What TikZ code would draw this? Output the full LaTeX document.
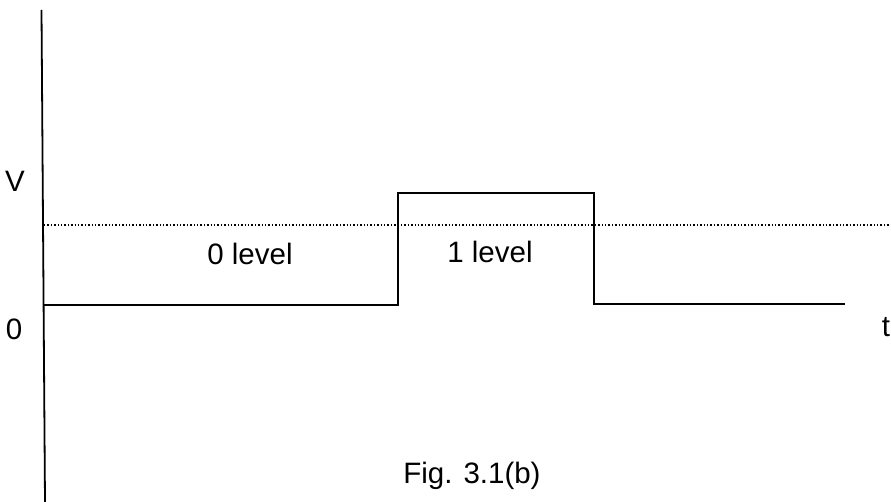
\documentclass[tikz,border=0pt]{standalone}
\usepackage{fontspec}
\setmainfont{Liberation Sans}
\begin{document}
\begin{tikzpicture}[x=1pt,y=-1pt,
  lbl/.style={inner sep=0pt,anchor=base,font=\fontsize{29.5}{32}\selectfont},
  sig/.style={line width=1.8pt,line join=miter},
  axisline/.style={line width=1.8pt},
  thr/.style={line width=1.4pt,dotted}]
\useasboundingbox (0,0) rectangle (891,502);
% axis
\coordinate (atop) at (41.5,10);
\coordinate (abot) at (45,502);
\draw[axisline] (atop) -- (abot);
% threshold dotted line
\coordinate (d1) at (44,225);
\coordinate (d2) at (891,225);
\draw[thr] (d1) -- (d2);
% waveform
\coordinate (w0) at (43.5,305);
\coordinate (w1) at (398,305);
\coordinate (w2) at (398,193);
\coordinate (w3) at (594,193);
\coordinate (w4) at (594,304);
\coordinate (w5) at (845,304);
\draw[sig] (w0) -- (w1) -- (w2) -- (w3) -- (w4) -- (w5);
% labels
\node[lbl] (V) at (15,192) {V};
\node[lbl] (zero) at (14,340) {0};
\node[lbl] (t) at (886,337) {t};
\node[lbl] (l0) at (250,265) {0 level};
\node[lbl] (l1) at (490,263) {1 level};
\node[lbl] (cap) at (472,483) {Fig. 3.1(b)};
\end{tikzpicture}
\end{document}
